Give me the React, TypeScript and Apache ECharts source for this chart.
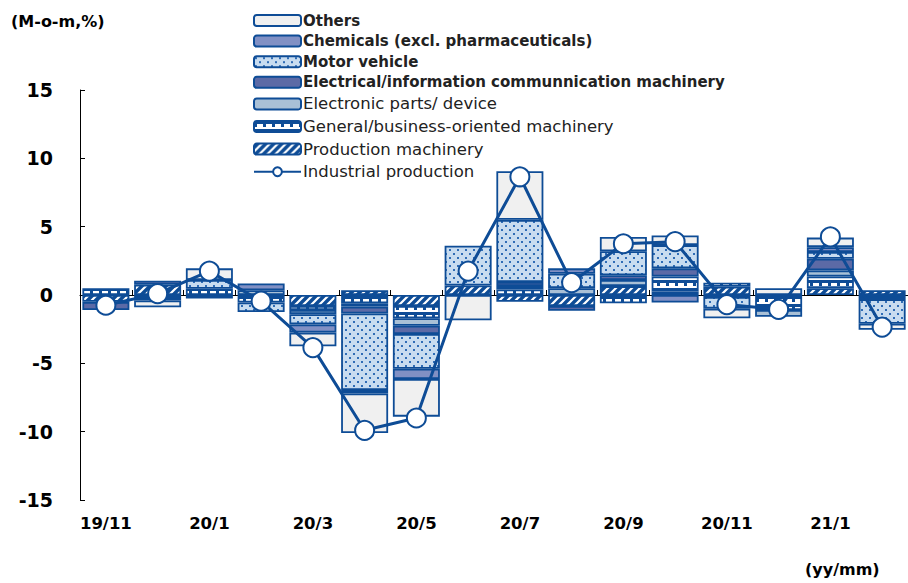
import React, { useEffect, useRef } from "react";
import * as echarts from "echarts";

const categories = ["19/11", "19/12", "20/1", "20/2", "20/3", "20/4", "20/5", "20/6", "20/7", "20/8", "20/9", "20/10", "20/11", "20/12", "21/1", "21/2"];

const production = [-0.5, 0.75, -0.25, 0, -0.8, 0.35, -0.8, 0.7, -0.5, -0.8, 0.65, 0.25, 0.6, 0, 0.5, 0.35];
const general = [0.5, -0.4, 0.45, -0.55, -0.3, -0.6, -0.9, 0, 0.4, 0, -0.6, 1.1, 0.3, -1.1, 0.85, -0.3];
const electronic = [0, 0, 0, 0.35, -0.3, -0.25, -0.55, 0, 0.25, 0.5, 0.45, 0, -0.15, -0.5, 0.45, 0];
const electrical = [-0.6, 0.3, 0, 0, 0, -0.5, -0.6, 0, 0.3, -0.35, 0.35, 0.6, 0, 0, 0.85, 0];
const motor = [0, 0, 0.65, -0.7, -0.75, -5.6, -2.55, 2.9, 4.55, 1.05, 1.75, 1.7, -0.85, 0, 0.5, -1.8];
const chemicals = [0, 0, 0, 0.5, -0.6, -0.25, -0.75, 0, 0, 0.4, 0, -0.55, 0, 0, 0.35, 0];
const others = [0, -0.5, 0.85, 0, -1.0, -2.9, -2.75, -1.85, 3.55, 0, 1.05, 0.7, -0.7, 0.5, 0.7, -0.45];
const industrial = [-0.75, 0.1, 1.75, -0.45, -3.85, -9.9, -9.0, 1.75, 8.65, 0.9, 3.75, 3.9, -0.7, -1.05, 4.25, -2.35];

const legendNames = [
  "Others",
  "Chemicals (excl. pharmaceuticals)",
  "Motor vehicle",
  "Electrical/information communnication machinery",
  "Electronic parts/ device",
  "General/business-oriented machinery",
  "Production machinery",
  "Industrial production",
];
const boldLegend = [true, true, true, true, false, false, false, false];

const BLUE = "#0e4c96";

function makeTile(w: number, h: number, draw: (ctx: CanvasRenderingContext2D) => void) {
  const c = document.createElement("canvas");
  c.width = w;
  c.height = h;
  const ctx = c.getContext("2d")!;
  draw(ctx);
  return { image: c, repeat: "repeat" } as any;
}

function makePatterns() {
  const hatch = makeTile(8, 8, (ctx) => {
    ctx.fillStyle = BLUE;
    ctx.fillRect(0, 0, 8, 8);
    ctx.strokeStyle = "#ffffff";
    ctx.lineWidth = 2.2;
    ctx.beginPath();
    ctx.moveTo(-2, 10);
    ctx.lineTo(10, -2);
    ctx.moveTo(-6, 6);
    ctx.lineTo(6, -6);
    ctx.moveTo(2, 14);
    ctx.lineTo(14, 2);
    ctx.stroke();
  });
  const crenel = makeTile(9, 8, (ctx) => {
    ctx.fillStyle = "#ffffff";
    ctx.fillRect(0, 0, 9, 8);
    ctx.fillStyle = BLUE;
    ctx.fillRect(0, 0, 9, 3);
    ctx.fillRect(0, 3, 3, 3);
  });
  const dots = makeTile(8, 8, (ctx) => {
    ctx.fillStyle = "#c8dcf0";
    ctx.fillRect(0, 0, 8, 8);
    ctx.fillStyle = "#2f6cb5";
    ctx.fillRect(1, 1, 2, 2);
    ctx.fillRect(5, 5, 2, 2);
  });
  return { hatch, crenel, dots };
}

export default function App() {
  const ref = useRef<HTMLDivElement>(null);

  useEffect(() => {
    document.body.style.margin = "0";
    if (!ref.current) return;
    const chart = echarts.init(ref.current, undefined, { renderer: "svg" });
    const p = makePatterns();

    const barDefs = [
      { name: legendNames[6], data: production, fill: p.hatch },
      { name: legendNames[5], data: general, fill: p.crenel },
      { name: legendNames[4], data: electronic, fill: "#a9c0d6" },
      { name: legendNames[3], data: electrical, fill: "#5c6aa6" },
      { name: legendNames[2], data: motor, fill: p.dots },
      { name: legendNames[1], data: chemicals, fill: "#8190c4" },
      { name: legendNames[0], data: others, fill: "#f0f0f0" },
    ];

    const barSeries = barDefs.map((d) => ({
      type: "bar",
      name: d.name,
      stack: "total",
      xAxisIndex: 0,
      barWidth: 47,
      data: d.data.map((v) => (v === 0 ? null : v)),
      itemStyle: { color: d.fill, borderColor: BLUE, borderWidth: 1.8 },
      emphasis: { disabled: true },
    }));

    const font = "DejaVu Sans";

    chart.setOption({
      animation: false,
      grid: { left: 80, top: 90, width: 829, height: 410 },
      legend: {
        data: legendNames,
        orient: "vertical",
        left: 248,
        top: 8,
        itemWidth: 47,
        itemHeight: 11,
        itemGap: 5.6,
        selectedMode: false,
        formatter: (name: string) => {
          const i = legendNames.indexOf(name);
          return boldLegend[i] ? `{b|${name}}` : `{n|${name}}`;
        },
        textStyle: {
          padding: [0, 0, 0, -3],
          rich: {
            b: { fontFamily: font, fontWeight: "bold", fontSize: 15, color: "#222", lineHeight: 16 },
            n: { fontFamily: font, fontSize: 16.5, color: "#222", lineHeight: 16 },
          },
        },
      },
      xAxis: [
        {
          type: "category",
          data: categories,
          position: "bottom",
          axisLine: { show: false, onZero: false },
          axisTick: { show: false },
          axisLabel: {
            interval: 1,
            margin: 15,
            fontFamily: font,
            fontWeight: "bold",
            fontSize: 16.5,
            color: "#000",
          },
        },
        {
          type: "category",
          data: categories,
          position: "top",
          axisLine: { show: true, onZero: true, lineStyle: { color: "#000", width: 1 } },
          axisTick: { show: true, inside: false, length: 5, lineStyle: { color: "#000" } },
          axisLabel: { show: false },
        },
      ],
      yAxis: {
        type: "value",
        min: -15,
        max: 15,
        interval: 5,
        axisLine: { show: true, lineStyle: { color: "#000", width: 1 } },
        axisTick: { show: true, inside: true, length: 5, lineStyle: { color: "#000" } },
        splitLine: { show: false },
        axisLabel: {
          margin: 27,
          fontFamily: font,
          fontWeight: "bold",
          fontSize: 19,
          color: "#000",
        },
      },
      graphic: [
        {
          type: "text",
          left: 11,
          top: 13,
          style: { text: "(M-o-m,%)", fontFamily: font, fontWeight: "bold", fontSize: 16, fill: "#000" },
        },
        {
          type: "text",
          left: 805,
          top: 561,
          style: { text: "(yy/mm)", fontFamily: font, fontWeight: "bold", fontSize: 16, fill: "#000" },
        },
      ],
      series: [
        ...barSeries,
        {
          type: "line",
          name: legendNames[7],
          xAxisIndex: 0,
          data: industrial,
          z: 5,
          symbol: "circle",
          symbolSize: 19,
          lineStyle: { color: BLUE, width: 3 },
          itemStyle: { color: "#ffffff", borderColor: BLUE, borderWidth: 2 },
          emphasis: { disabled: true },
        },
      ],
    });

    return () => chart.dispose();
  }, []);

  return <div ref={ref} style={{ width: 908, height: 583 }} />;
}
